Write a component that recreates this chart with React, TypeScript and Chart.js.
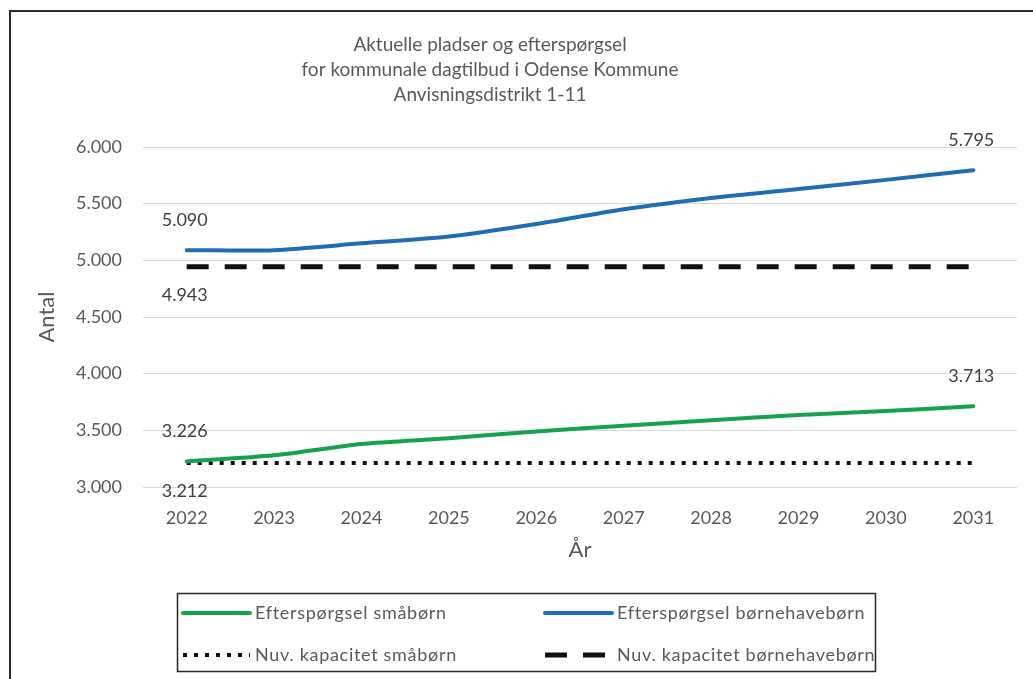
import React, { useEffect, useRef } from "react";
import { Chart, registerables } from "chart.js";

Chart.register(...registerables);

// ---- Data ----
const years = ["2022", "2023", "2024", "2025", "2026", "2027", "2028", "2029", "2030", "2031"];
const demandToddlers = [3226, 3280, 3380, 3430, 3490, 3540, 3590, 3635, 3670, 3713];
const demandKindergarten = [5090, 5090, 5150, 5210, 5320, 5450, 5550, 5630, 5710, 5795];
const capacityToddlers = [3212, 3212, 3212, 3212, 3212, 3212, 3212, 3212, 3212, 3212];
const capacityKindergarten = [4943, 4943, 4943, 4943, 4943, 4943, 4943, 4943, 4943, 4943];
const seriesNames = [
  "Efterspørgsel småbørn",
  "Efterspørgsel børnehavebørn",
  "Nuv. kapacitet småbørn",
  "Nuv. kapacitet børnehavebørn",
];
const titleLines = [
  "Aktuelle pladser og efterspørgsel",
  "for kommunale dagtilbud i Odense Kommune",
  "Anvisningsdistrikt 1-11",
];
const yAxisTitle = "Antal";
const xAxisTitle = "År";
const yMin = 3000;
const yMax = 6000;
const yStep = 500;
// [series index, point index, placement]
const labelledPoints: [number, number, "above" | "below"][] = [
  [0, 0, "above"],
  [0, 9, "above"],
  [1, 0, "above"],
  [1, 9, "above"],
  [2, 0, "below"],
  [3, 0, "below"],
];

const FONT = "Lato, 'Open Sans', sans-serif";
const TEXT = "#595959";

const fmt = (v: number) => String(Math.round(v)).replace(/\B(?=(\d{3})+(?!\d))/g, ".");

const frame = {
  id: "frame",
  beforeDraw(chart: any) {
    const { ctx, width, height } = chart;
    ctx.save();
    ctx.fillStyle = "#ffffff";
    ctx.fillRect(0, 0, width, height);
    ctx.fillStyle = "#2b2b2b";
    ctx.fillRect(1, 2, 2, height);
    ctx.fillRect(1, 2, width, 2);
    ctx.restore();
  },
};

const titlePlugin = {
  id: "titleLines",
  afterDraw(chart: any) {
    const { ctx } = chart;
    ctx.save();
    ctx.fillStyle = TEXT;
    ctx.font = `19px ${FONT}`;
    ctx.textAlign = "center";
    ctx.textBaseline = "middle";
    titleLines.forEach((t, i) => ctx.fillText(t, 482, 37 + i * 25));
    ctx.restore();
  },
};

const dataLabels = {
  id: "dataLabels",
  afterDatasetsDraw(chart: any) {
    const { ctx } = chart;
    ctx.save();
    ctx.fillStyle = "#404040";
    ctx.font = `18px ${FONT}`;
    ctx.textAlign = "center";
    ctx.textBaseline = "middle";
    labelledPoints.forEach(([si, pi, where]) => {
      const el = chart.getDatasetMeta(si).data[pi];
      const v = chart.data.datasets[si].data[pi] as number;
      const y = where === "above" ? el.y - 30 : el.y + 28;
      ctx.fillText(fmt(v), el.x - 2, y);
    });
    ctx.restore();
  },
};

const legendBox = {
  id: "legendBox",
  afterDraw(chart: any) {
    const { ctx } = chart;
    const bx = 169, by = 585, bw = 698, bh = 78;
    ctx.save();
    ctx.strokeStyle = "#262626";
    ctx.lineWidth = 1.5;
    ctx.strokeRect(bx + 0.5, by + 0.5, bw, bh);
    ctx.beginPath();
    ctx.rect(bx + 1, by + 1, bw - 1.5, bh - 1);
    ctx.clip();
    const cols = [175, 537];
    const rows = [605, 647];
    chart.data.datasets.forEach((ds: any, i: number) => {
      const x = cols[i % 2];
      const y = rows[Math.floor(i / 2)];
      ctx.save();
      ctx.strokeStyle = ds.borderColor;
      ctx.lineWidth = ds.borderWidth;
      ctx.lineCap = ds.borderCapStyle || "butt";
      ctx.setLineDash(ds.legendDash || []);
      ctx.beginPath();
      ctx.moveTo(x, y);
      ctx.lineTo(x + 67, y);
      ctx.stroke();
      ctx.restore();
      ctx.fillStyle = TEXT;
      ctx.font = `18px ${FONT}`;
      (ctx as any).letterSpacing = "0.7px";
      ctx.textAlign = "left";
      ctx.textBaseline = "middle";
      ctx.fillText(ds.label, x + 72, y);
      (ctx as any).letterSpacing = "0px";
    });
    ctx.restore();
  },
};

export default function App() {
  const ref = useRef<HTMLCanvasElement>(null);
  useEffect(() => {
    if (!ref.current) return;
    const chart = new Chart(ref.current, {
      type: "line",
      data: {
        labels: years,
        datasets: [
          {
            label: seriesNames[0],
            data: demandToddlers,
            borderColor: "#14a34a",
            borderWidth: 4,
            borderCapStyle: "round",
            tension: 0.25,
            pointRadius: 0,
          } as any,
          {
            label: seriesNames[1],
            data: demandKindergarten,
            borderColor: "#1f6db4",
            borderWidth: 4,
            borderCapStyle: "round",
            tension: 0.25,
            pointRadius: 0,
          },
          {
            label: seriesNames[2],
            data: capacityToddlers,
            borderColor: "#111111",
            borderWidth: 4,
            borderDash: [4, 7],
            legendDash: [4, 7],
            pointRadius: 0,
          },
          {
            label: seriesNames[3],
            data: capacityKindergarten,
            borderColor: "#111111",
            borderWidth: 5,
            borderDash: [22, 16],
            legendDash: [22, 16],
            pointRadius: 0,
          },
        ],
      },
      options: {
        animation: false,
        responsive: true,
        maintainAspectRatio: false,
        layout: { padding: { left: 0, right: 16, top: 139, bottom: 112 } },
        plugins: {
          legend: { display: false },
          title: { display: false },
          tooltip: { enabled: false },
        },
        scales: {
          x: {
            offset: true,
            grid: { display: false, drawTicks: false },
            border: { display: false },
            ticks: { color: TEXT, font: { family: FONT, size: 18 }, padding: 20, maxRotation: 0 },
            title: {
              display: true,
              text: xAxisTitle,
              color: TEXT,
              font: { family: FONT, size: 22 },
              padding: { top: 0, bottom: 4 },
            },
            afterFit: (s: any) => {
              s.height = 80;
            },
          },
          y: {
            min: yMin,
            max: yMax,
            grid: { color: "#d9d9d9", lineWidth: 1, drawTicks: false },
            border: { display: false },
            ticks: {
              stepSize: yStep,
              color: TEXT,
              font: { family: FONT, size: 18 },
              padding: 21,
              callback: (v: any) => fmt(Number(v)),
            },
            title: {
              display: true,
              text: yAxisTitle,
              color: TEXT,
              font: { family: FONT, size: 22 },
              padding: { top: 26, bottom: 0 },
            },
            afterFit: (s: any) => {
              s.width = 135;
            },
          },
        },
      },
      plugins: [frame, titlePlugin, dataLabels, legendBox],
    });
    return () => chart.destroy();
  }, []);
  return (
    <div style={{ position: "absolute", left: 8, top: 8, width: 1025, height: 671 }}>
      <canvas ref={ref} />
    </div>
  );
}
